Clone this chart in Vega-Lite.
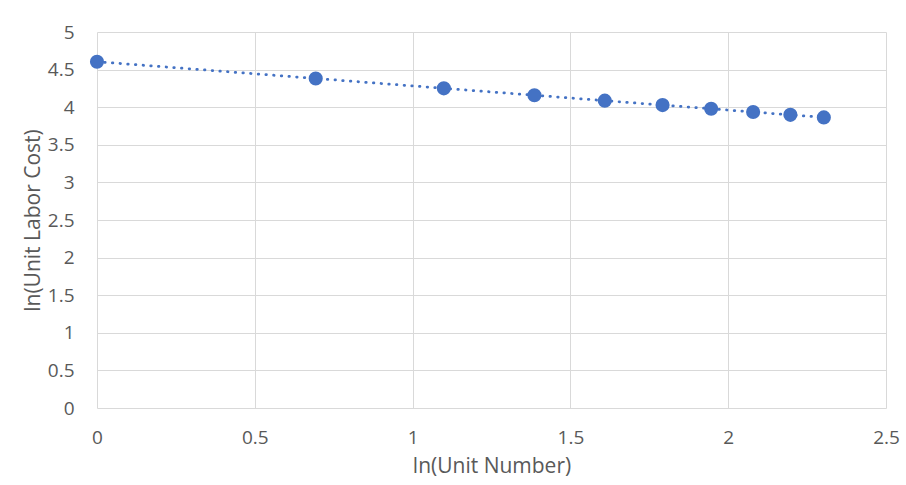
{
  "$schema": "https://vega.github.io/schema/vega-lite/v6.json",
  "width": 789,
  "height": 376,
  "autosize": {"type": "none"},
  "padding": {"left": 97, "top": 32, "right": 20, "bottom": 77},
  "background": "white",
  "config": {
    "view": {"stroke": null},
    "font": "Open Sans",
    "axis": {
      "labelColor": "#595959",
      "titleColor": "#595959",
      "labelFontSize": 19,
      "titleFontSize": 21,
      "titleFontWeight": "normal",
      "gridColor": "#d9d9d9",
      "gridWidth": 1,
      "domain": false,
      "ticks": false,
      "format": "~g"
    }
  },
  "data": {
    "values": [
      {"lnUnit": 0.000, "lnCost": 4.605},
      {"lnUnit": 0.693, "lnCost": 4.382},
      {"lnUnit": 1.099, "lnCost": 4.251},
      {"lnUnit": 1.386, "lnCost": 4.159},
      {"lnUnit": 1.609, "lnCost": 4.087},
      {"lnUnit": 1.792, "lnCost": 4.028},
      {"lnUnit": 1.946, "lnCost": 3.979},
      {"lnUnit": 2.079, "lnCost": 3.936},
      {"lnUnit": 2.197, "lnCost": 3.898},
      {"lnUnit": 2.303, "lnCost": 3.864}
    ]
  },
  "encoding": {
    "x": {
      "field": "lnUnit", "type": "quantitative",
      "scale": {"domain": [0, 2.5], "nice": false, "zero": false},
      "axis": {"values": [0, 0.5, 1, 1.5, 2, 2.5], "format": "~g", "title": "ln(Unit Number)", "labelPadding": 20, "titlePadding": 8, "labelFlush": false}
    },
    "y": {
      "field": "lnCost", "type": "quantitative",
      "scale": {"domain": [0, 5], "nice": false},
      "axis": {"values": [0, 0.5, 1, 1.5, 2, 2.5, 3, 3.5, 4, 4.5, 5], "format": "~g", "title": "ln(Unit Labor Cost)", "labelPadding": 23, "titlePadding": 4}
    }
  },
  "layer": [
    {
      "mark": {"type": "line", "color": "#4472C4", "strokeWidth": 2.75, "strokeDash": [0.5, 7.2], "strokeCap": "round"}
    },
    {
      "mark": {"type": "circle", "color": "#4472C4", "opacity": 1, "size": 200}
    }
  ]
}
